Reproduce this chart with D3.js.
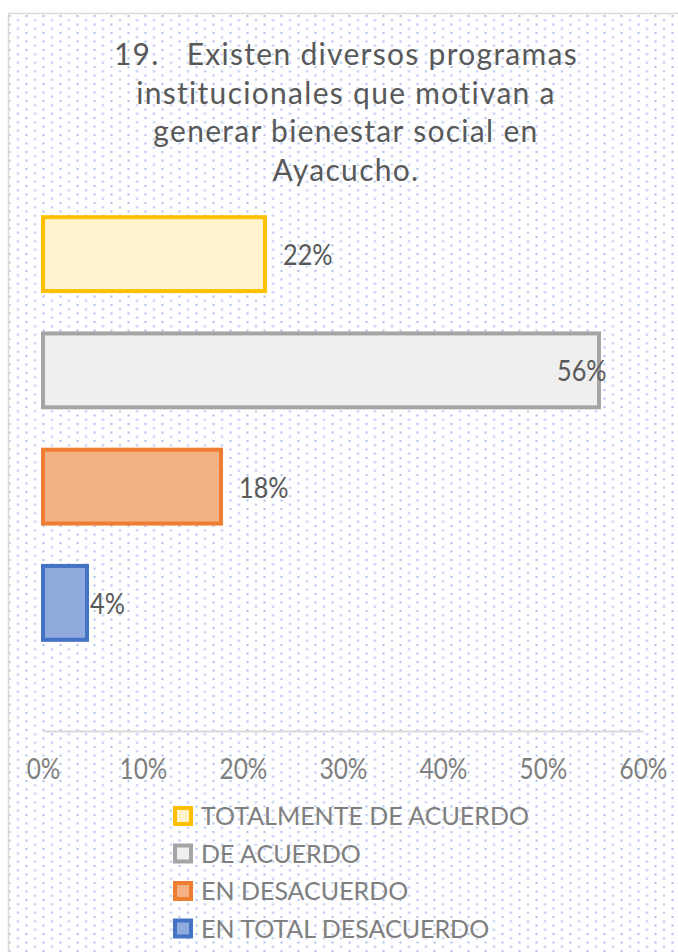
<!DOCTYPE html>
<html>
<head>
<meta charset="utf-8">
<script src="https://cdnjs.cloudflare.com/ajax/libs/d3/7.8.5/d3.min.js"></script>
<style>
  body { margin: 0; background: #fff; }
  text { font-family: Lato, "Open Sans", sans-serif; }
</style>
</head>
<body>
<div id="chart"></div>
<script>
// data (labels show the rounded %)
var categories = ["TOTALMENTE DE ACUERDO", "DE ACUERDO", "EN DESACUERDO", "EN TOTAL DESACUERDO"];
var values = [22.2, 55.6, 17.8, 4.4];
var xTicks = [0, 10, 20, 30, 40, 50, 60];
var titleLines = ["19.   Existen diversos programas", "institucionales que motivan a", "generar bienestar social en", "Ayacucho."];

var fills = ["#FFF2CC", "#EFEFEF", "#F4B183", "#8FAADC"];
var strokes = ["#FFC000", "#A5A5A5", "#ED7D31", "#4472C4"];
// manual nudges of the data labels, as in the original
var labelDx = [16, -44, 16, 1];

var svgWidth = 678;
var svgHeight = 952;
var squash = 0.87; // numbers in the original are narrow

var svg = d3.select("#chart")
  .append("svg")
  .attr("width", svgWidth)
  .attr("height", svgHeight);

// dotted background pattern (staggered dots)
var defs = svg.append("defs");
var pat = defs.append("pattern")
  .attr("id", "dots")
  .attr("patternUnits", "userSpaceOnUse")
  .attr("x", 8.5)
  .attr("y", 15)
  .attr("width", 17)
  .attr("height", 8.5);
pat.append("rect").attr("width", 17).attr("height", 8.5).attr("fill", "#fff");
pat.append("rect").attr("x", 0).attr("y", 0).attr("width", 2).attr("height", 2).attr("fill", "#a8c0ec");
pat.append("rect").attr("x", 8.5).attr("y", 4.25).attr("width", 2).attr("height", 2).attr("fill", "#a8c0ec");

svg.append("rect")
  .attr("x", 8.5)
  .attr("y", 13.5)
  .attr("width", 720)
  .attr("height", 1000)
  .attr("fill", "url(#dots)")
  .attr("stroke", "#d9d9d9")
  .attr("stroke-width", 1.5);

// title
svg.append("g")
  .selectAll("text")
  .data(titleLines)
  .enter()
  .append("text")
  .attr("x", 346)
  .attr("y", (d, i) => 65 + i * 38.7)
  .attr("text-anchor", "middle")
  .attr("font-size", "30px")
  .attr("letter-spacing", "1.3px")
  .attr("fill", "#595959")
  .style("white-space", "pre")
  .text(d => d);

// scales
var xScale = d3.scaleLinear()
  .domain([0, 60])
  .range([43, 643]);

var yScale = d3.scaleBand()
  .domain(categories)
  .range([196, 661])
  .paddingInner(0.33)
  .paddingOuter(0.165);

var axisY = 731;

// axis
var xAxis = d3.axisBottom(xScale)
  .tickValues(xTicks)
  .tickFormat(d => d + "%")
  .tickSize(0)
  .tickSizeOuter(0);

var axisG = svg.append("g")
  .attr("transform", `translate(0, ${axisY})`)
  .call(xAxis);

axisG.select(".domain")
  .attr("stroke", "#d9d9d9")
  .attr("stroke-width", 2);

axisG.selectAll("text")
  .attr("y", 48)
  .attr("dy", 0)
  .attr("font-size", "28px")
  .attr("font-family", "Lato, 'Open Sans', sans-serif")
  .attr("fill", "#7f7f7f")
  .attr("transform", `scale(${squash}, 1)`);

// bars
svg.append("g")
  .selectAll("rect")
  .data(values)
  .enter()
  .append("rect")
  .attr("x", xScale(0))
  .attr("y", (d, i) => yScale(categories[i]) + 2)
  .attr("width", d => xScale(d) - xScale(0))
  .attr("height", yScale.bandwidth() - 4)
  .attr("fill", (d, i) => fills[i])
  .attr("stroke", (d, i) => strokes[i])
  .attr("stroke-width", 4);

// data labels
svg.append("g")
  .selectAll("g")
  .data(values)
  .enter()
  .append("g")
  .attr("transform", (d, i) => `translate(${xScale(d) + 2 + labelDx[i]}, ${yScale(categories[i]) + yScale.bandwidth() / 2 + 11}) scale(${squash}, 1)`)
  .append("text")
  .attr("font-size", "29px")
  .attr("fill", "#595959")
  .text(d => Math.round(d) + "%");

// legend
var legend = svg.append("g")
  .selectAll("g")
  .data(categories)
  .enter()
  .append("g")
  .attr("transform", (d, i) => `translate(175, ${816 + i * 37.5})`);

legend.append("rect")
  .attr("x", 0)
  .attr("y", -8)
  .attr("width", 16)
  .attr("height", 16)
  .attr("fill", (d, i) => fills[i])
  .attr("stroke", (d, i) => strokes[i])
  .attr("stroke-width", 4);

legend.append("text")
  .attr("x", 26)
  .attr("y", 9)
  .attr("font-size", "25px")
  .attr("fill", "#7f7f7f")
  .text(d => d);
</script>
</body>
</html>
